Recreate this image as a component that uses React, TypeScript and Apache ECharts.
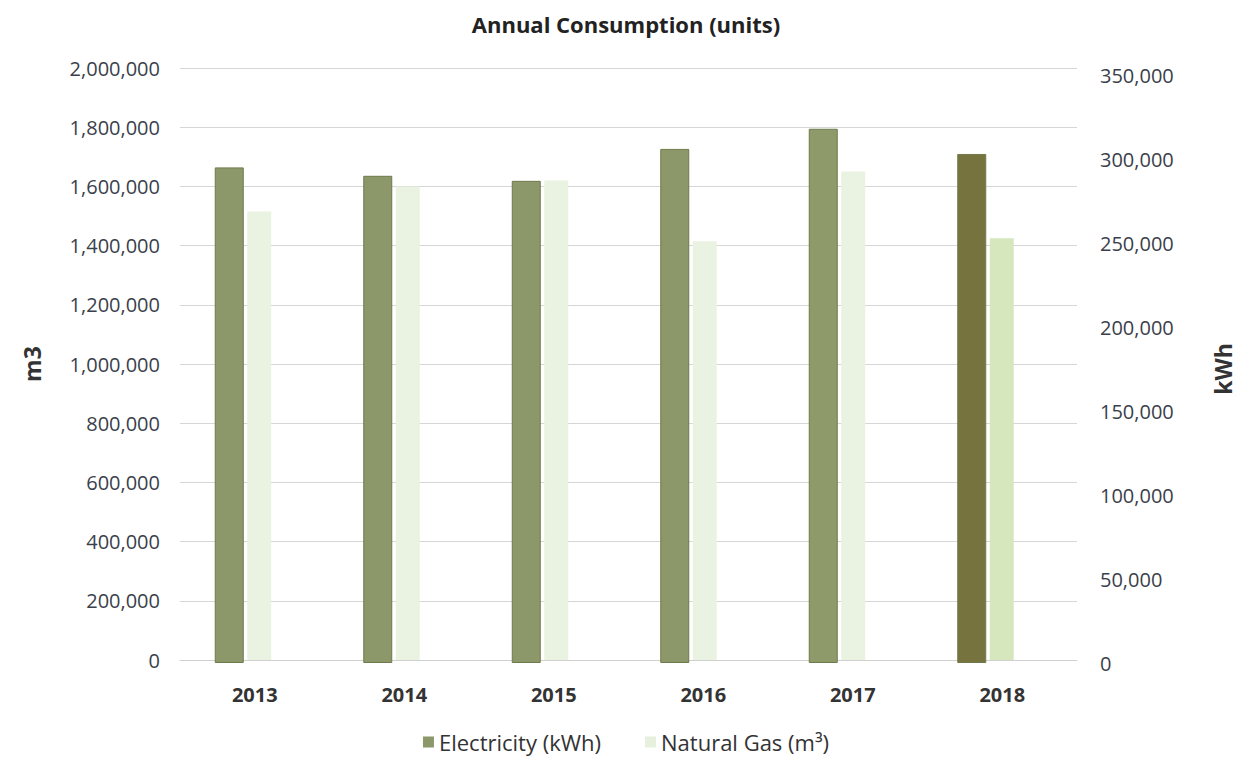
import React, { useEffect, useRef } from "react";
import * as echarts from "echarts";

const years = ["2013", "2014", "2015", "2016", "2017", "2018"];
const electricityKWh = [295000, 290000, 287000, 306000, 318000, 303000];
const naturalGasM3 = [1515000, 1600000, 1620000, 1415000, 1650000, 1425000];
const electricityColors = ["#8c976a", "#8c976a", "#8c976a", "#8c976a", "#8e9a6a", "#76733f"];
const gasColors = ["#eaf3e2", "#eaf3e2", "#eaf3e2", "#eaf3e2", "#eaf3e2", "#d6e6bd"];

const FONT = "'Open Sans', 'DejaVu Sans', sans-serif";
const fmt = (v: number) => v.toLocaleString("en-US");

export default function App() {
  const ref = useRef<HTMLDivElement>(null);
  useEffect(() => {
    if (!ref.current) return;
    const chart = echarts.init(ref.current, null, { renderer: "svg" });
    chart.setOption({
      animation: false,
      backgroundColor: "#ffffff",
      title: {
        text: "Annual Consumption (units)",
        left: "center",
        top: 8,
        textStyle: { fontFamily: FONT, fontSize: 22, fontWeight: "bold", color: "#222" },
      },
      legend: {
        bottom: 6,
        left: "center",
        itemWidth: 11,
        itemHeight: 11,
        itemGap: 44,
        icon: "rect",
        textStyle: { fontFamily: FONT, fontSize: 22, color: "#333" },
        data: [
          { name: "Electricity (kWh)", itemStyle: { color: "#8c976a" } },
          { name: "Natural Gas (m³)", itemStyle: { color: "#e6f0dc" } },
        ],
      },
      grid: [
        // display grid: category labels, left axis, gridlines
        { left: 180, right: 175, top: 68, bottom: 104 },
        // gas bars
        { left: 185, right: 176, top: 68, bottom: 104 },
        // electricity bars
        { left: 155, right: 206, top: 75, bottom: 101 },
        // right axis labels
        { left: 169, right: 192, top: 75, bottom: 101 },
      ],
      xAxis: [
        {
          type: "category",
          gridIndex: 0,
          data: years,
          axisLine: { show: true, lineStyle: { color: "#d0d0d0" } },
          axisTick: { show: false },
          axisLabel: {
            margin: 24,
            fontFamily: FONT,
            fontSize: 20,
            fontWeight: "bold",
            color: "#333",
          },
        },
        { type: "category", gridIndex: 1, data: years, show: false },
        { type: "category", gridIndex: 2, data: years, show: false },
        { type: "category", gridIndex: 3, data: years, show: false },
      ],
      yAxis: [
        {
          type: "value",
          gridIndex: 0,
          min: 0,
          max: 2000000,
          interval: 200000,
          name: "m3",
          nameLocation: "middle",
          nameGap: 137,
          nameTextStyle: { fontFamily: FONT, fontSize: 23, fontWeight: "bold", color: "#333" },
          axisLine: { show: false },
          axisTick: { show: false },
          splitLine: { show: true, lineStyle: { color: "#d6d6d6", width: 1 } },
          axisLabel: {
            margin: 20,
            fontFamily: FONT,
            fontSize: 20,
            color: "#3a3f4b",
            formatter: fmt,
          },
        },
        { type: "value", gridIndex: 1, min: 0, max: 2000000, show: false },
        { type: "value", gridIndex: 2, min: 0, max: 350000, show: false },
        {
          type: "value",
          gridIndex: 3,
          position: "right",
          min: 0,
          max: 350000,
          interval: 50000,
          name: "kWh",
          nameLocation: "middle",
          nameGap: 151,
          nameTextStyle: { fontFamily: FONT, fontSize: 23, fontWeight: "bold", color: "#333" },
          axisLine: { show: false },
          axisTick: { show: false },
          splitLine: { show: false },
          axisLabel: {
            margin: 40,
            fontFamily: FONT,
            fontSize: 20,
            color: "#3a3f4b",
            formatter: fmt,
          },
        },
      ],
      series: [
        {
          name: "Electricity (kWh)",
          type: "bar",
          xAxisIndex: 2,
          yAxisIndex: 2,
          barWidth: 29,
          data: electricityKWh.map((v, i) => ({
            value: v,
            itemStyle: { color: electricityColors[i], borderColor: "#6f7a4c", borderWidth: 1 },
          })),
        },
        {
          name: "Natural Gas (m³)",
          type: "bar",
          xAxisIndex: 1,
          yAxisIndex: 1,
          barWidth: 24,
          data: naturalGasM3.map((v, i) => ({ value: v, itemStyle: { color: gasColors[i] } })),
        },
      ],
    });
    return () => chart.dispose();
  }, []);
  return (
    <div
      ref={ref}
      style={{ position: "fixed", left: 0, top: 0, width: 1252, height: 764 }}
    />
  );
}
